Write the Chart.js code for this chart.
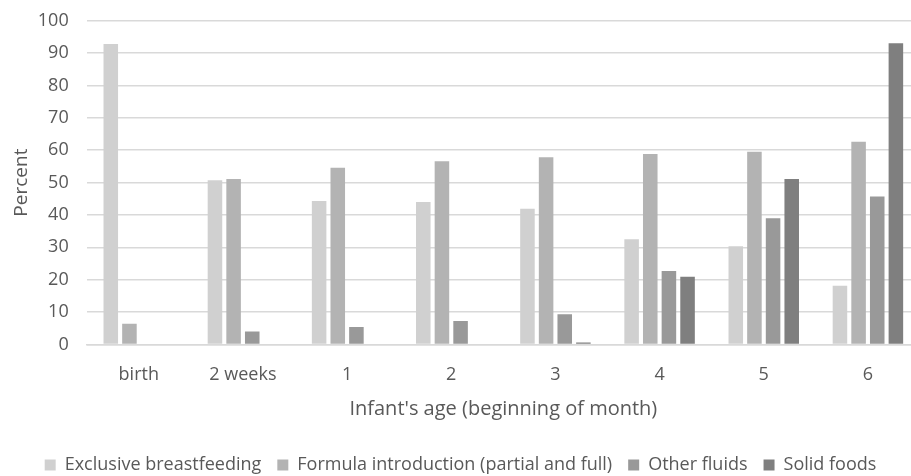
<!DOCTYPE html>
<html>
<head>
<meta charset="utf-8">
<script src="https://cdn.jsdelivr.net/npm/chart.js@4/dist/chart.umd.min.js"></script>
<style>
  html, body { margin: 0; padding: 0; background: #ffffff; overflow: hidden; width: 911px; height: 476px; }
  #wrap { width: 920px; height: 484px; position: absolute; left: 0; top: -8px; }
</style>
</head>
<body>
<div id="wrap"><canvas id="c"></canvas></div>
<script>
const categories = ["birth", "2 weeks", "1", "2", "3", "4", "5", "6"];
const exclusiveBreastfeeding = [92.8, 50.7, 44.3, 44.0, 41.9, 32.5, 30.3, 18.1];
const formulaIntroduction   = [6.4, 51.1, 54.6, 56.6, 57.8, 58.8, 59.5, 62.6];
const otherFluids           = [0, 4.0, 5.4, 7.2, 9.3, 22.7, 39.0, 45.7];
const solidFoods            = [0, 0, 0, 0, 0.6, 20.9, 51.1, 93.1];
const seriesNames = ["Exclusive breastfeeding", "Formula introduction (partial and full)", "Other fluids", "Solid foods"];
const yTicks = [0, 10, 20, 30, 40, 50, 60, 70, 80, 90, 100];

const colors = ["#d0d0d0", "#b3b3b3", "#999999", "#7f7f7f"];
const seriesData = [exclusiveBreastfeeding, formulaIntroduction, otherFluids, solidFoods];
const FONT = "'Open Sans', 'Liberation Sans', sans-serif";
const textColor = "#595959";

new Chart(document.getElementById('c'), {
  type: 'bar',
  data: {
    labels: categories,
    datasets: seriesNames.map((n, i) => ({
      label: n,
      data: seriesData[i],
      backgroundColor: colors[i],
      borderWidth: 0,
      categoryPercentage: 0.716,
      barPercentage: 0.78
    }))
  },
  options: {
    responsive: true,
    maintainAspectRatio: false,
    animation: false,
    layout: { padding: { top: 0, right: 0, left: 1, bottom: -8 } },
    plugins: {
      tooltip: { enabled: false },
      legend: {
        position: 'bottom',
        labels: {
          boxWidth: 11, boxHeight: 11, padding: 16,
          color: textColor,
          font: { family: FONT, size: 18 }
        }
      }
    },
    scales: {
      x: {
        grid: { display: false, drawTicks: false },
        border: { display: true, color: '#d9d9d9', width: 1.5 },
        ticks: { color: textColor, font: { family: FONT, size: 18 }, padding: 20 },
        title: {
          display: true, text: "Infant's age (beginning of month)",
          color: textColor, font: { family: FONT, size: 20 },
          padding: { top: -9, bottom: 19 }
        }
      },
      y: {
        min: 0, max: 100,
        afterBuildTicks: (axis) => { axis.ticks = yTicks.map(v => ({ value: v })); },
        grid: { color: '#d9d9d9', lineWidth: 1.5, drawTicks: false },
        border: { display: false },
        ticks: { color: textColor, font: { family: FONT, size: 18 }, padding: 18 },
        title: {
          display: true, text: "Percent",
          color: textColor, font: { family: FONT, size: 19 },
          padding: { top: 9, bottom: -13 }
        }
      }
    }
  }
});
</script>
</body>
</html>
